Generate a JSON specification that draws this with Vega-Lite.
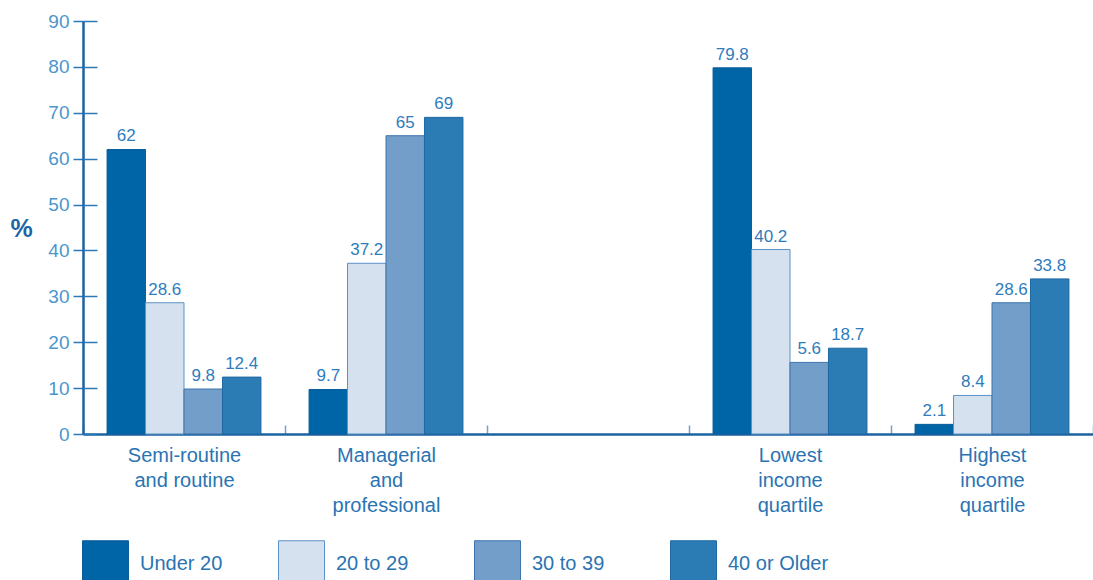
{
  "$schema": "https://vega.github.io/schema/vega-lite/v6.json",
  "width": 1010,
  "height": 413,
  "autosize": "none",
  "padding": {"left": 83, "top": 21, "right": 0, "bottom": 146},
  "background": "white",
  "config": {
    "font": "Liberation Sans",
    "view": {"stroke": null},
    "axis": {"grid": false}
  },
  "data": {
    "values": [
      {"category": "Semi-routine and routine", "age": "Under 20", "value": 62, "label": "62"},
      {"category": "Semi-routine and routine", "age": "20 to 29", "value": 28.6, "label": "28.6"},
      {"category": "Semi-routine and routine", "age": "30 to 39", "value": 9.8, "label": "9.8"},
      {"category": "Semi-routine and routine", "age": "40 or Older", "value": 12.4, "label": "12.4"},
      {"category": "Managerial and professional", "age": "Under 20", "value": 9.7, "label": "9.7"},
      {"category": "Managerial and professional", "age": "20 to 29", "value": 37.2, "label": "37.2"},
      {"category": "Managerial and professional", "age": "30 to 39", "value": 65, "label": "65"},
      {"category": "Managerial and professional", "age": "40 or Older", "value": 69, "label": "69"},
      {"category": "Lowest income quartile", "age": "Under 20", "value": 79.8, "label": "79.8"},
      {"category": "Lowest income quartile", "age": "20 to 29", "value": 40.2, "label": "40.2"},
      {"category": "Lowest income quartile", "age": "30 to 39", "value": 15.6, "label": "5.6"},
      {"category": "Lowest income quartile", "age": "40 or Older", "value": 18.7, "label": "18.7"},
      {"category": "Highest income quartile", "age": "Under 20", "value": 2.1, "label": "2.1"},
      {"category": "Highest income quartile", "age": "20 to 29", "value": 8.4, "label": "8.4"},
      {"category": "Highest income quartile", "age": "30 to 39", "value": 28.6, "label": "28.6"},
      {"category": "Highest income quartile", "age": "40 or Older", "value": 33.8, "label": "33.8"}
    ]
  },
  "encoding": {
    "x": {
      "field": "category",
      "type": "nominal",
      "scale": {
        "domain": ["Semi-routine and routine", "Managerial and professional", "gap", "Lowest income quartile", "Highest income quartile"],
        "paddingInner": 0,
        "paddingOuter": 0
      },
      "axis": {
        "title": null,
        "labelAngle": 0,
        "labelLimit": 0,
        "labelFontSize": 20,
        "labelColor": "#2a74b3",
        "labelLineHeight": 25,
        "labelBaseline": "top",
        "labelPadding": 20,
        "tickBand": "extent",
        "tickSize": -9,
        "tickColor": "#6fa3d2",
        "tickWidth": 1.5,
        "domainColor": "#1b62a0",
        "domainWidth": 2.5,
        "labelExpr": "datum.value == 'Semi-routine and routine' ? ['Semi-routine', 'and routine'] : datum.value == 'Managerial and professional' ? ['Managerial', 'and', 'professional'] : datum.value == 'Lowest income quartile' ? ['Lowest', 'income', 'quartile'] : datum.value == 'Highest income quartile' ? ['Highest', 'income', 'quartile'] : ''"
      }
    },
    "xOffset": {
      "field": "age",
      "type": "nominal",
      "scale": {
        "domain": ["Under 20", "20 to 29", "30 to 39", "40 or Older"],
        "paddingInner": 0,
        "paddingOuter": 0.625
      }
    }
  },
  "layer": [
    {
      "mark": {"type": "bar", "strokeWidth": 1},
      "encoding": {
        "y": {
          "field": "value",
          "type": "quantitative",
          "scale": {"domain": [0, 90]},
          "axis": {
            "orient": "left",
            "values": [0, 10, 20, 30, 40, 50, 60, 70, 80, 90],
            "title": "%",
            "titleAngle": 0,
            "titleFontSize": 25,
            "titleFontWeight": "bold",
            "titleColor": "#1a66a6",
            "titleX": -62,
            "titleY": 207,
            "titleAlign": "center",
            "titleBaseline": "middle",
            "labelFontSize": 19,
            "labelColor": "#4b96cc",
            "labelPadding": 4,
            "tickSize": 10,
            "tickColor": "#2a7ab8",
            "tickWidth": 1.5,
            "domainColor": "#1b62a0",
            "domainWidth": 2.5
          }
        },
        "color": {
          "field": "age",
          "type": "nominal",
          "scale": {
            "domain": ["Under 20", "20 to 29", "30 to 39", "40 or Older"],
            "range": ["#0065a6", "#d5e1ee", "#739ec9", "#2b7bb5"]
          },
          "legend": {
            "title": null,
            "orient": "none",
            "legendX": -1,
            "legendY": 519,
            "direction": "horizontal",
            "columns": 4,
            "gridAlign": "all",
            "columnPadding": 35,
            "symbolType": "square",
            "symbolSize": 2116,
            "symbolStrokeWidth": 1,
            "symbolOpacity": 1,
            "labelFontSize": 20,
            "labelColor": "#2a74b3",
            "labelOffset": 11,
            "labelLimit": 0
          }
        },
        "stroke": {
          "field": "age",
          "type": "nominal",
          "scale": {
            "domain": ["Under 20", "20 to 29", "30 to 39", "40 or Older"],
            "range": ["#0c5d9c", "#5b93c6", "#3d74ae", "#1f68a3"]
          },
          "legend": {
            "title": null,
            "orient": "none",
            "legendX": -1,
            "legendY": 519,
            "direction": "horizontal",
            "columns": 4,
            "gridAlign": "all",
            "columnPadding": 35,
            "symbolType": "square",
            "symbolSize": 2116,
            "symbolStrokeWidth": 1,
            "labelFontSize": 20,
            "labelColor": "#2a74b3",
            "labelOffset": 11,
            "labelLimit": 0
          }
        }
      }
    },
    {
      "mark": {"type": "text", "dy": -4, "fontSize": 17, "color": "#2f7cbd", "baseline": "bottom"},
      "encoding": {
        "y": {
          "field": "value",
          "type": "quantitative",
          "scale": {"domain": [0, 90]},
          "axis": {
            "orient": "left",
            "values": [0, 10, 20, 30, 40, 50, 60, 70, 80, 90],
            "title": null,
            "labels": false,
            "domain": false,
            "tickSize": -14,
            "tickColor": "#2a7ab8",
            "tickWidth": 1.5
          }
        },
        "text": {"field": "label"}
      }
    }
  ],
  "resolve": {"axis": {"y": "independent"}}
}
